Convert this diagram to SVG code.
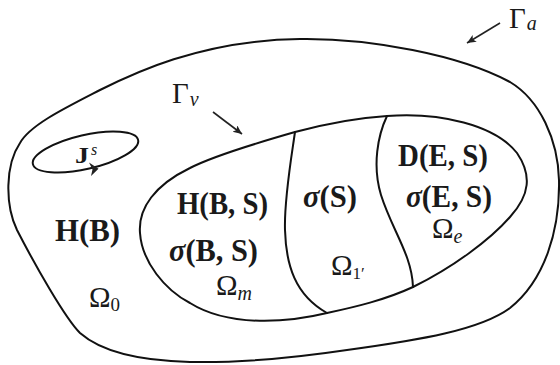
<svg xmlns="http://www.w3.org/2000/svg" width="560" height="365" viewBox="0 0 560 365">
<defs>
<style>
.edge{fill:none;stroke:#111;stroke-width:2;stroke-linecap:round;stroke-linejoin:round}
.lead{fill:none;stroke:#222;stroke-width:1.6}
.bold{font-family:"Liberation Serif","Times New Roman",serif;font-weight:bold;font-size:31px;fill:#1a1a1a}
.bi{font-style:italic}
.rm{font-family:"Liberation Serif","Times New Roman",serif;font-size:29px;fill:#1a1a1a}
.sub{font-style:italic;font-size:20px}
.subn{font-size:19px}
</style>
<marker id="arr" markerUnits="userSpaceOnUse" markerWidth="12" markerHeight="10" refX="9" refY="4" orient="auto">
<path d="M0,0 L9,4 L0,8 L2.2,4 z" fill="#222"/>
</marker>
</defs>
<rect width="560" height="365" fill="#fff"/>

<g id="omega0">
<path class="edge" d="M300,39 C370,38 460,55 510,82 C540,100 558,140 559,180 C560,230 545,280 510,308 C480,330 420,340 347,350 C300,357 240,363 190,362 C150,361 105,355 80,333 C65,318 35,265 17,230 C5,205 5,165 20,143 C30,125 65,108 100,90 C130,75 200,40 300,39 Z"/>
<text class="bold" x="55" y="241" textLength="65" lengthAdjust="spacingAndGlyphs">H(B)</text>
<text class="rm" x="89" y="307">Ω<tspan class="subn" dx="0" y="311">0</tspan></text>
</g>

<g id="source">
<ellipse class="edge" cx="85.5" cy="152" rx="54" ry="17" transform="rotate(-13 85.5 152)"/>
<path d="M89,162.5 L98.5,168.8 L91,176 L92.5,169.5 z" fill="#222"/>
<text class="bold" x="75" y="162.5" style="font-size:24px" textLength="14" lengthAdjust="spacingAndGlyphs">J</text>
<text class="rm bi" x="91" y="155" style="font-size:16px">s</text>
</g>

<g id="inner-boundary">
<path class="edge" d="M387,116 C440,112 495,125 517,153 C532,175 530,195 510,217 C490,240 452,268 413,287 C385,300 355,307 327,313 C290,322 230,328 190,303 C165,290 142,262 140,233 C138,208 155,185 190,168 C215,155 260,142 295,132 C325,124 355,118 387,116 Z"/>
</g>

<g id="omega-m">
<text class="bold" x="177" y="214" textLength="91" lengthAdjust="spacingAndGlyphs">H(B, S)</text>
<text class="bold" x="169" y="261" textLength="89" lengthAdjust="spacingAndGlyphs"><tspan class="bi">σ</tspan>(B, S)</text>
<text class="rm" x="216" y="295">Ω<tspan class="sub" dx="0" y="300">m</tspan></text>
</g>

<g id="omega-1">
<path class="edge" d="M295,132 C291,160 284,200 285,230 C286,265 295,295 327,313"/>
<text class="bold" x="303" y="207" textLength="54" lengthAdjust="spacingAndGlyphs"><tspan class="bi">σ</tspan>(S)</text>
<text class="rm" x="331" y="275">Ω<tspan class="subn" dx="0" y="279" style="font-size:17px">1′</tspan></text>
</g>

<g id="omega-e">
<path class="edge" d="M387,116 C378,135 372,165 381,195 C392,230 412,255 413,287"/>
<text class="bold" x="398" y="166" textLength="90" lengthAdjust="spacingAndGlyphs">D(E, S)</text>
<text class="bold" x="406" y="207" textLength="86" lengthAdjust="spacingAndGlyphs"><tspan class="bi">σ</tspan>(E, S)</text>
<text class="rm" x="432" y="238">Ω<tspan class="sub" dx="0" y="243">e</tspan></text>
</g>

<g id="gamma-v-label">
<text class="rm" x="172" y="103">Γ<tspan class="sub" dx="1" y="106">v</tspan></text>
</g>
<g id="gamma-a-label">
<text class="rm" x="509" y="28">Γ<tspan class="sub" dx="1" y="30">a</tspan></text>
</g>

<g id="connectors">
<line class="lead" x1="213" y1="112" x2="242" y2="134" marker-end="url(#arr)"/>
<line class="lead" x1="500" y1="23" x2="467" y2="43" marker-end="url(#arr)"/>
</g>
</svg>
